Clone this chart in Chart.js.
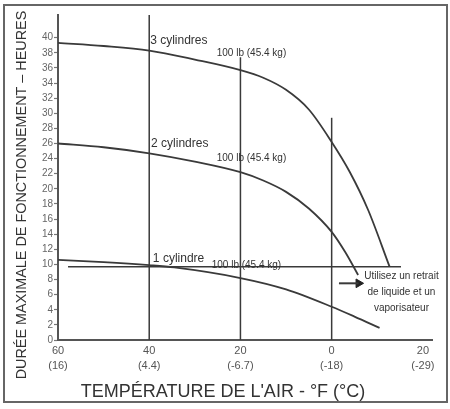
<!DOCTYPE html>
<html>
<head>
<meta charset="utf-8">
<script src="https://cdn.jsdelivr.net/npm/chart.js@4"></script>
<style>
  html, body { margin: 0; padding: 0; background: #fff; }
  #wrap { width: 450px; height: 409px; position: relative; }
</style>
</head>
<body>
<div id="wrap"><canvas id="chart" width="450" height="409"></canvas></div>
<script>
// values (x = °F, y = hours)
const cyl3Temp = [60, 50, 40, 30, 20, 15, 10, 5, 0, -4, -8, -12.7];
const cyl3Hours = [39.3, 38.9, 38.3, 37.1, 35.7, 34.7, 33.1, 30.5, 26.2, 22.2, 17.2, 9.7];
const cyl2Temp = [60, 50, 40, 30, 20, 15, 10, 5, 0, -3, -5.8];
const cyl2Hours = [26.0, 25.5, 24.7, 23.6, 22.2, 21.1, 19.6, 17.4, 14.3, 11.6, 8.6];
const cyl1Temp = [60, 50, 40, 34.5, 20, 10, 0, -5, -10.5];
const cyl1Hours = [10.6, 10.3, 9.9, 9.6, 8.2, 6.7, 4.4, 3.1, 1.6];

const markTemps = [40, 20, 0];         // vertical 100 lb lines
const markTops = [43, 37.4, 29.4];
const limitTemp = [57.8, -15.2];        // horizontal line
const limitHours = 9.7;
const arrowTemp = [-1.6, -5.9];
const arrowHours = 7.5;

const xTicks = [60, 40, 20, 0, -20];
const xTickF = ["60", "40", "20", "0", "20"];
const xTickC = ["(16)", "(4.4)", "(-6.7)", "(-18)", "(-29)"];
const yTicks = [0, 2, 4, 6, 8, 10, 12, 14, 16, 18, 20, 22, 24, 26, 28, 30, 32, 34, 36, 38, 40];

const labels = [
    { text: "3 cylindres", x: 39.8, y: 39.6, size: 12, align: "left" },
    { text: "100 lb (45.4 kg)", x: 25.2, y: 38.0, size: 10, align: "left" },
    { text: "2 cylindres", x: 39.6, y: 26.0, size: 12, align: "left" },
    { text: "100 lb (45.4 kg)", x: 25.2, y: 24.0, size: 10, align: "left" },
    { text: "1 cylindre", x: 39.2, y: 10.8, size: 12, align: "left" },
    { text: "100 lb (45.4 kg)", x: 26.3, y: 9.9, size: 10, align: "left" },
    { text: "Utilisez un retrait", x: -15.3, y: 8.45, size: 10, align: "center" },
    { text: "de liquide et un", x: -15.3, y: 6.3, size: 10, align: "center" },
    { text: "vaporisateur", x: -15.3, y: 4.2, size: 10, align: "center" }
];

const ink = "#3a3a3a";
const toPts = (xs, ys) => xs.map((x, i) => ({ x: x, y: ys[i] }));

const curve = (xs, ys) => ({
    data: toPts(xs, ys),
    borderColor: ink,
    borderWidth: 1.8,
    pointRadius: 0,
    cubicInterpolationMode: "monotone",
    fill: false
});
const straight = (pts, w) => ({
    data: pts,
    borderColor: ink,
    borderWidth: w || 1.5,
    pointRadius: 0,
    tension: 0,
    fill: false
});

const datasets = [
    curve(cyl3Temp, cyl3Hours),
    curve(cyl2Temp, cyl2Hours),
    curve(cyl1Temp, cyl1Hours)
];
markTemps.forEach((t, i) => datasets.push(straight([{ x: t, y: 0 }, { x: t, y: markTops[i] }])));
datasets.push(straight(limitTemp.map(t => ({ x: t, y: limitHours }))));
datasets.push(straight(arrowTemp.map(t => ({ x: t, y: arrowHours })), 2));
datasets.push({
    data: [{ x: arrowTemp[1], y: arrowHours }],
    pointStyle: "triangle",
    rotation: 90,
    pointRadius: 5,
    backgroundColor: "#222",
    borderColor: "#222",
    showLine: false
});

// titles, notes and frame
const decor = {
    id: "decor",
    afterDraw(chart) {
        const c = chart.ctx;
        const xs = chart.scales.x, ys = chart.scales.y;
        c.save();
        c.fillStyle = "#333";
        c.textBaseline = "middle";
        labels.forEach(l => {
            c.font = l.size + "px 'Liberation Sans', Arial, sans-serif";
            c.textAlign = l.align;
            c.fillText(l.text, xs.getPixelForValue(l.x), ys.getPixelForValue(l.y));
        });

        c.font = "18px 'Liberation Sans', Arial, sans-serif";
        c.textAlign = "center";
        c.fillText("TEMPÉRATURE DE L'AIR - °F (°C)", 223, 392);

        c.translate(22, 195);
        c.rotate(-Math.PI / 2);
        c.font = "14.4px 'Liberation Sans', Arial, sans-serif";
        c.fillText("DURÉE MAXIMALE DE FONCTIONNEMENT – HEURES", 0, 0);
        c.restore();

        c.save();
        c.strokeStyle = "#666";
        c.lineWidth = 2;
        c.strokeRect(4, 5, 443, 397);
        c.restore();
    }
};

new Chart(document.getElementById("chart"), {
    type: "line",
    data: { datasets: datasets },
    options: {
        responsive: false,
        animation: false,
        layout: { padding: { left: 0, right: 18, top: 15, bottom: 0 } },
        plugins: { legend: { display: false }, tooltip: { enabled: false } },
        scales: {
            x: {
                type: "linear",
                reverse: true,
                min: -22,
                max: 60,
                afterBuildTicks: s => { s.ticks = xTicks.map(v => ({ value: v })); },
                afterFit: s => { s.height = 69; },
                ticks: {
                    color: "#555",
                    font: { size: 11, family: "'Liberation Sans', Arial, sans-serif", lineHeight: 1.35 },
                    padding: 4,
                    maxRotation: 0,
                    callback: (v) => {
                        const i = xTicks.indexOf(v);
                        return [xTickF[i], xTickC[i]];
                    }
                },
                grid: { drawOnChartArea: false, drawTicks: false },
                border: { color: "#555", width: 2 }
            },
            y: {
                min: 0,
                max: 43,
                afterBuildTicks: s => { s.ticks = yTicks.map(v => ({ value: v })); },
                afterFit: s => { s.width = 58; },
                ticks: {
                    color: "#666",
                    font: { size: 10, family: "'Liberation Sans', Arial, sans-serif" },
                    padding: 1
                },
                grid: { drawOnChartArea: false, tickLength: 4, color: "#777", tickWidth: 1.2 },
                border: { color: "#555", width: 2 }
            }
        }
    },
    plugins: [decor]
});
</script>
</body>
</html>
